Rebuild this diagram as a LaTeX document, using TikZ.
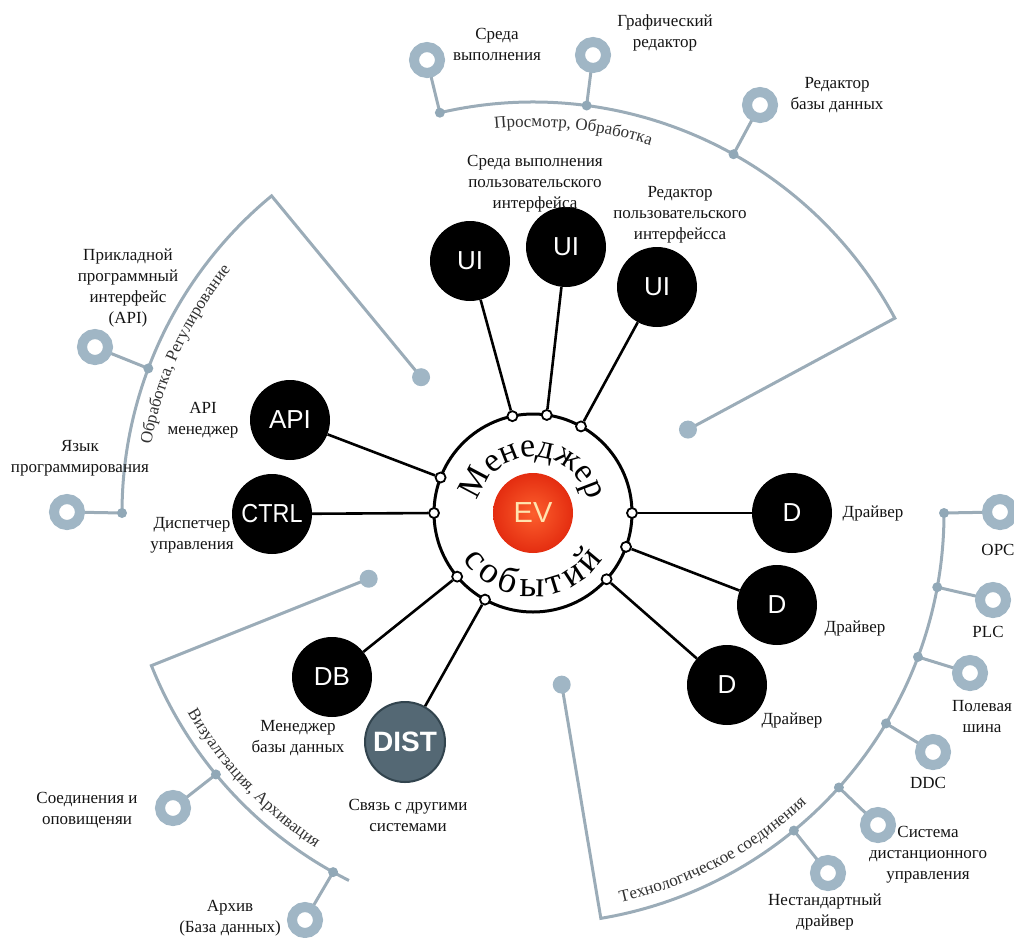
\documentclass[tikz,border=0pt]{standalone}
\usepackage{fontspec}
\setmainfont{Liberation Serif}
\newfontfamily\sansf{Liberation Sans}
\usetikzlibrary{calc,decorations.text,backgrounds}
\definecolor{ringc}{RGB}{160,182,197}
\definecolor{linec}{RGB}{155,172,184}
\definecolor{dotc}{RGB}{145,168,183}
\definecolor{labc}{RGB}{20,20,20}
\definecolor{arclab}{RGB}{50,50,50}
\definecolor{evred}{RGB}{228,45,16}
\definecolor{evin}{RGB}{252,95,45}
\definecolor{evtxt}{RGB}{255,228,175}
\definecolor{distc}{RGB}{84,104,116}
\definecolor{distb}{RGB}{50,68,78}
\begin{document}
\begin{tikzpicture}[x=1pt,y=1pt,
  ring/.style={circle, draw=ringc, line width=10pt, fill=white, minimum size=26pt, inner sep=0pt},
  junc/.style={circle, fill=dotc, minimum size=10pt, inner sep=0pt},
  enddot/.style={circle, fill=ringc, minimum size=18pt, inner sep=0pt},
  stem/.style={draw=linec, line width=3pt},
  garc/.style={draw=linec, line width=3pt},
  bnode/.style={circle, fill=black, minimum size=80pt, inner sep=0pt, text=white, font=\sansf\fontsize{26}{26}\selectfont},
  port/.style={circle, draw=black, fill=white, line width=1.8pt, minimum size=10pt, inner sep=0pt},
  conn/.style={draw=black, line width=2.6pt},
  lab/.style={align=center, text=labc, font=\fontsize{17}{21}\selectfont, inner sep=0pt},
  bigch/.style={inner sep=0pt, anchor=base, font=\fontsize{37}{37}\selectfont}
]
\useasboundingbox (0,0) rectangle (1014,-937);
\coordinate (C) at (533,-513);

% ---------- gray structure: top ----------
\node[enddot] (et) at ($(C)+(28.3:176)$) {};
\node[junc] (jt1) at ($(C)+(103.1:411)$) {};
\node[junc] (jt2) at ($(C)+(82.5:411)$) {};
\node[junc] (jt3) at ($(C)+(60.8:411)$) {};
\node[ring] (rt1) at (427,-60) {};
\node[ring] (rt2) at (593,-55) {};
\node[ring] (rt3) at (760,-105) {};
% ---------- left ----------
\node[enddot] (el) at ($(C)+(129.5:176)$) {};
\node[junc] (jl1) at ($(C)+(159.4:411)$) {};
\node[junc] (jl2) at ($(C)+(180:411)$) {};
\node[ring] (rl1) at (95,-347) {};
\node[ring] (rl2) at (67,-512) {};
% ---------- bottom left ----------
\node[enddot] (eb) at ($(C)+(201.8:177)$) {};
\node[junc] (jb1) at ($(C)+(219.5:411)$) {};
\node[junc] (jb2) at ($(C)+(240.9:411)$) {};
\node[ring] (rb1) at (173,-808) {};
\node[ring] (rb2) at (305,-920) {};
% ---------- bottom right ----------
\node[enddot] (er) at ($(C)+(-80.5:174)$) {};
\node[junc] (jr1) at ($(C)+(0:411)$) {};
\node[junc] (jr2) at ($(C)+(-10.4:411)$) {};
\node[junc] (jr3) at ($(C)+(-20.5:411)$) {};
\node[junc] (jr4) at ($(C)+(-30.8:411)$) {};
\node[junc] (jr5) at ($(C)+(-41.9:411)$) {};
\node[junc] (jr6) at ($(C)+(-50.6:411)$) {};
\node[ring] (rr1) at (1000,-512) {};
\node[ring] (rr2) at (993,-600) {};
\node[ring] (rr3) at (970,-673) {};
\node[ring] (rr4) at (933,-752) {};
\node[ring] (rr5) at (878,-825) {};
\node[ring] (rr6) at (828,-873) {};

\begin{scope}[on background layer]
  \draw[garc] ($(C)+(103.6:411)$) arc (103.6:28.3:411) -- (et.center);
  \draw[garc] ($(C)+(180:411)$) arc (180:129.5:411) -- (el.center);
  \draw[garc] (eb.center) -- ($(C)+(201.8:411)$) arc (201.8:243.4:411);
  \draw[garc] (er.center) -- ($(C)+(-80.5:411)$) arc (-80.5:0:411);
  \draw[stem] (rt1.center) -- (jt1.center);
  \draw[stem] (rt2.center) -- (jt2.center);
  \draw[stem] (rt3.center) -- (jt3.center);
  \draw[stem] (rl1.center) -- (jl1.center);
  \draw[stem] (rl2.center) -- (jl2.center);
  \draw[stem] (rb1.center) -- (jb1.center);
  \draw[stem] (rb2.center) -- (jb2.center);
  \draw[stem] (rr1.center) -- (jr1.center);
  \draw[stem] (rr2.center) -- (jr2.center);
  \draw[stem] (rr3.center) -- (jr3.center);
  \draw[stem] (rr4.center) -- (jr4.center);
  \draw[stem] (rr5.center) -- (jr5.center);
  \draw[stem] (rr6.center) -- (jr6.center);
\end{scope}

% curved labels on the big arcs
\path[decorate, decoration={text along path, text align=center,
  text={|\fontsize{17}{17}\selectfont\color{arclab}|Просмотр, Обработка}}]
  ($(C)+(97:386)$) arc (97:71:386);
\path[decorate, decoration={text along path, text align=center,
  text={|\fontsize{17}{17}\selectfont\color{arclab}|Обработка, Регулирование}}]
  ($(C)+(172:388)$) arc (172:139:388);
\path[decorate, decoration={text along path, text align=center,
  text={|\fontsize{17}{17}\selectfont\color{arclab}|Визуалтзация, Архивация}}]
  ($(C)+(207:399)$) arc (207:240:399);
\path[decorate, decoration={text along path, text align=center,
  text={|\fontsize{17}{17}\selectfont\color{arclab}|Технологическое соединения}}]
  ($(C)+(-80:399)$) arc (-80:-44:399);

% ---------- central manager ----------
\node[circle, draw=black, line width=3pt, fill=white, minimum size=198pt, inner sep=0pt] (mgr) at (C) {};
\node[circle, inner color=evin, outer color=evred, minimum size=80pt, inner sep=0pt,
  text=evtxt, font=\sansf\fontsize{29}{29}\selectfont] (ev) at (C) {EV};
\path[decorate, decoration={text along path, text align=center,
  text={|\fontsize{34}{34}\selectfont|Менеджер}}]
  ($(C)+(165:56)$) arc (165:15:56);
% "событий" letter by letter along the lower arc
\foreach \ch/\ang [count=\i] in {с/218.7, о/234.0, б/250.2, ы/269.1, т/287.1, и/302.9, й/320.0} {
  \node[bigch, rotate=\ang+90] (sob\i) at ($(C)+(\ang:84)$) {\ch};
}

% ports
\node[port] (pui1) at ($(C)+(102:99)$) {};
\node[port] (pui2) at ($(C)+(82:99)$) {};
\node[port] (pui3) at ($(C)+(61:99)$) {};
\node[port] (papi) at ($(C)+(159:99)$) {};
\node[port] (pctrl) at ($(C)+(180:99)$) {};
\node[port] (pd1) at ($(C)+(0:99)$) {};
\node[port] (pd2) at ($(C)+(-20:99)$) {};
\node[port] (pd3) at ($(C)+(-42:99)$) {};
\node[port] (pdb) at ($(C)+(220:99)$) {};
\node[port] (pdist) at ($(C)+(241:99)$) {};

% black nodes
\node[bnode] (ui1) at (470,-261) {UI};
\node[bnode] (ui2) at (566,-247) {UI};
\node[bnode] (ui3) at (657,-287) {UI};
\node[bnode] (api) at (290,-420) {API};
\node[bnode] (ctrl) at (272,-514) {\scalebox{0.9}[1]{CTRL}};
\node[bnode] (d1) at (792,-513) {D};
\node[bnode] (d2) at (777,-605) {D};
\node[bnode] (d3) at (727,-685) {D};
\node[bnode] (db) at (332,-677) {DB};
\node[circle, fill=distc, draw=distb, line width=2pt, minimum size=80pt, inner sep=0pt,
  text=white, font=\sansf\bfseries\fontsize{28}{28}\selectfont] (dist) at (405,-742) {DIST};

\begin{scope}[on background layer]
  \draw[conn] (ui1) -- (pui1);
  \draw[conn] (ui2) -- (pui2);
  \draw[conn] (ui3) -- (pui3);
  \draw[conn] (api) -- (papi);
  \draw[conn] (ctrl) -- (pctrl);
  \draw[conn] (d1) -- (pd1);
  \draw[conn] (d2) -- (pd2);
  \draw[conn] (d3) -- (pd3);
  \draw[conn] (db) -- (pdb);
  \draw[conn] (dist) -- (pdist);
\end{scope}

% ---------- labels ----------
\node[lab] (lrt1) at (497,-44) {Среда\\выполнения};
\node[lab] (lrt2) at (665,-33) {Графический\\редактор};
\node[lab] (lrt3) at (837,-95) {Редактор\\базы данных};
\node[lab] (lui1) at (535,-184) {Среда выполнения\\пользовательского\\интерфейса};
\node[lab] (lui3) at (680,-215) {Редактор\\пользовательского\\интерфейсса};
\node[lab] (lrl1) at (128,-288) {Прикладной\\программный\\интерфейс\\(API)};
\node[lab] (lrl2) at (80,-458) {Язык\\программирования};
\node[lab] (lapi) at (203,-420) {API\\менеджер};
\node[lab] (lctrl) at (192,-535) {Диспетчер\\управления};
\node[lab] (ld1) at (873,-513) {Драйвер};
\node[lab] (ld2) at (855,-628) {Драйвер};
\node[lab] (ld3) at (792,-720) {Драйвер};
\node[lab] (ldb) at (298,-738) {Менеджер\\базы данных};
\node[lab] (ldist) at (408,-815) {Связь с другими\\системами};
\node[lab] (lrb1) at (87,-810) {Соединения и\\оповищеняи};
\node[lab] (lrb2) at (230,-918) {Архив\\(База данных)};
\node[lab] (lrr1) at (998,-550) {OPC};
\node[lab] (lrr2) at (988,-632) {PLC};
\node[lab] (lrr3) at (982,-717) {Полевая\\шина};
\node[lab] (lrr4) at (928,-783) {DDC};
\node[lab] (lrr5) at (928,-855) {Система\\дистанционного\\управления};
\node[lab] (lrr6) at (825,-912) {Нестандартный\\драйвер};
\end{tikzpicture}
\end{document}
